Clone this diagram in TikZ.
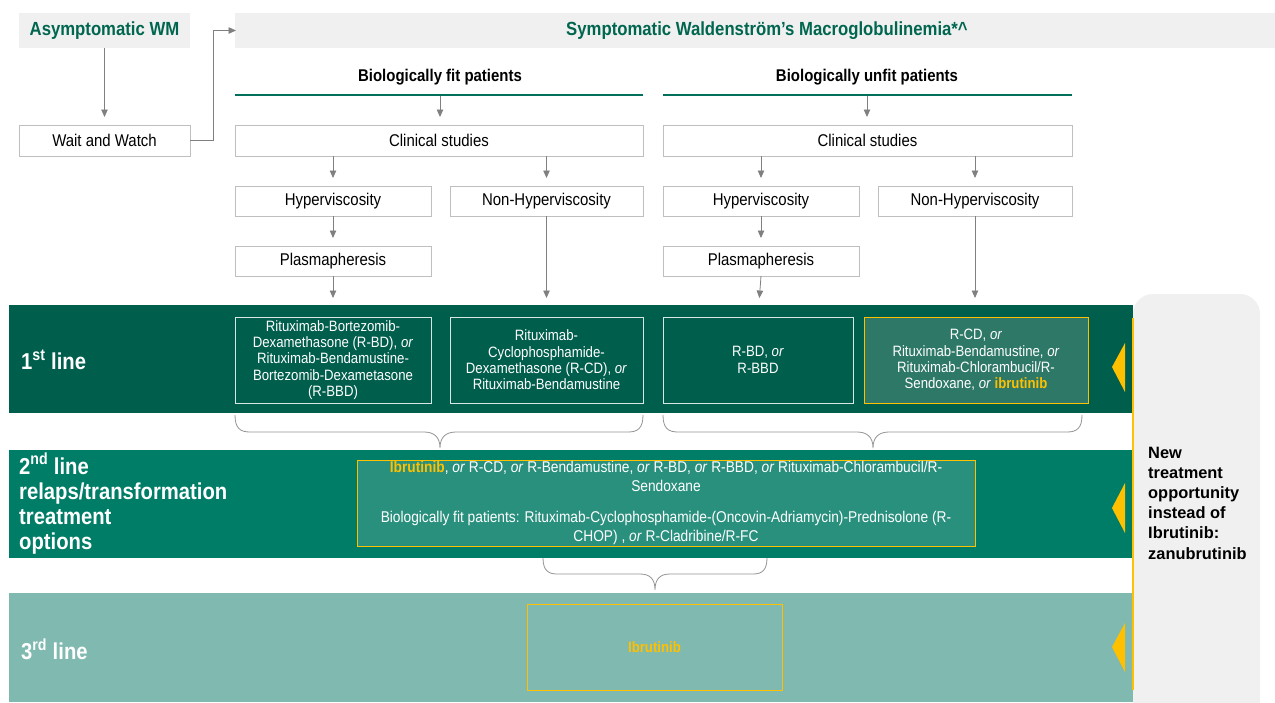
\documentclass[tikz,border=0pt]{standalone}
\usepackage{fontspec}
\setmainfont{Liberation Sans}[FakeStretch=0.88]
\newfontfamily\plainsans{Liberation Sans}
\usetikzlibrary{arrows.meta}
\definecolor{hdrgreen}{HTML}{00664F}
\definecolor{bandA}{HTML}{005E4C}
\definecolor{bandB}{HTML}{007D67}
\definecolor{bandC}{HTML}{80B9B0}
\definecolor{boxA}{HTML}{2E7868}
\definecolor{boxB}{HTML}{2A907E}
\definecolor{gold}{HTML}{FFC000}
\definecolor{paneGray}{HTML}{F0F0F0}
\definecolor{edgeGray}{HTML}{BFBFBF}
\definecolor{arrGray}{HTML}{808080}
\definecolor{ruleGreen}{HTML}{00705A}
\begin{document}
\begin{tikzpicture}[x=1pt,y=-1pt,
  hdrbox/.style={fill=paneGray, inner sep=0pt, outer sep=0pt, minimum height=35pt,
    font=\bfseries\fontsize{19}{22}\selectfont, text=hdrgreen},
  flowbox/.style={draw=edgeGray, line width=0.8pt, fill=white, inner sep=0pt, outer sep=0pt,
    minimum height=30pt, font=\fontsize{17}{20}\selectfont},
  subhdr/.style={font=\bfseries\fontsize{17}{20}\selectfont, inner sep=0pt},
  txbox/.style={draw=white!85!bandA, line width=0.8pt, inner sep=0pt, outer sep=0pt,
    minimum height=86pt, align=center, text=white, font=\fontsize{15}{16.4}\selectfont},
  goldbox/.style={txbox, draw=gold},
  lbl/.style={anchor=west, align=left, text=white, inner sep=0pt,
    font=\bfseries\fontsize{23}{25}\selectfont},
  arr/.style={draw=arrGray, line width=0.8pt, -{Triangle[width=6.5pt,length=7.5pt]}, shorten >=8pt},
  bracepath/.style={draw=arrGray!85, line width=0.8pt},
  rulepath/.style={draw=ruleGreen, line width=1.6pt}
]
\useasboundingbox (0,0) rectangle (1275,702);
\clip (0,0) rectangle (1275,702);

% ---- header row
\node[hdrbox, minimum width=171pt] (asym) at (104.5,30.5) {Asymptomatic WM};
\node[hdrbox, minimum width=1064pt] (sympt) at (767,30.5) {Symptomatic Waldenstr\"om's Macroglobulinemia*\textasciicircum};
\node[flowbox, minimum width=171pt, minimum height=31pt] (wait) at (104.5,140.5) {Wait and Watch};
\draw[arr] (asym.south) -- (wait.north);
\draw[arr, shorten >=0pt] (wait.east) -- ++(23,0) |- ([xshift=1pt]sympt.west);

% ---- patient groups
\node[subhdr] (fit) at (440,77) {Biologically fit patients};
\node[subhdr] (unfit) at (867,77) {Biologically unfit patients};
\coordinate (fitL) at (235,95);  \coordinate (fitR) at (643,95);
\coordinate (unfL) at (663,95);  \coordinate (unfR) at (1072,95);
\coordinate (fitM) at (440,96);  \coordinate (unfM) at (867,96);
\draw[rulepath] (fitL) -- (fitR);
\draw[rulepath] (unfL) -- (unfR);

\node[flowbox, minimum width=408pt, minimum height=31pt] (clinL) at (439,140.5) {Clinical studies};
\node[flowbox, minimum width=409pt, minimum height=31pt] (clinR) at (867.5,140.5) {Clinical studies};
\draw[arr] (fitM) -- (fitM |- clinL.north);
\draw[arr] (unfM) -- (unfM |- clinR.north);

\node[flowbox, minimum width=196pt] (hypL) at (333,201) {Hyperviscosity};
\node[flowbox, minimum width=193pt] (nonL) at (546.5,201) {Non-Hyperviscosity};
\node[flowbox, minimum width=196pt] (hypR) at (761,201) {Hyperviscosity};
\node[flowbox, minimum width=194pt] (nonR) at (975,201) {Non-Hyperviscosity};
\draw[arr] (hypL.north |- clinL.south) -- (hypL.north);
\draw[arr] (nonL.north |- clinL.south) -- (nonL.north);
\draw[arr] (hypR.north |- clinR.south) -- (hypR.north);
\draw[arr] (nonR.north |- clinR.south) -- (nonR.north);

\node[flowbox, minimum width=196pt] (plasL) at (333,261) {Plasmapheresis};
\node[flowbox, minimum width=196pt] (plasR) at (761,261) {Plasmapheresis};
\draw[arr] (hypL.south) -- (plasL.north);
\draw[arr] (hypR.south) -- (plasR.north);

% ---- bands
\fill[bandA] (9,305) rectangle (1133,413);
\fill[bandB] (9,450) rectangle (1133,558);
\fill[bandC] (9,593) rectangle (1133,702);

% ---- 1st line
\node[lbl] (l1) at (21,360) {1\textsuperscript{st} line};
\node[txbox, minimum width=196pt] (b1) at (333,360)
  {Rituximab-Bortezomib-\\Dexamethasone (R-BD), \textit{or}\\Rituximab-Bendamustine-\\Bortezomib-Dexametasone\\(R-BBD)};
\node[txbox, minimum width=193pt] (b2) at (546.5,360)
  {Rituximab-\\Cyclophosphamide-\\Dexamethasone (R-CD), \textit{or}\\Rituximab-Bendamustine};
\node[txbox, minimum width=190pt] (b3) at (758,360)
  {R-BD, \textit{or}\\R-BBD};
\node[goldbox, fill=boxA, minimum width=224pt] (b4) at (976,360)
  {R-CD, \textit{or}\\Rituximab-Bendamustine, \textit{or}\\Rituximab-Chlorambucil/R-\\Sendoxane, \textit{or} \textcolor{gold}{\bfseries ibrutinib}};
\draw[arr, shorten >=19pt] (plasL.south) -- (b1.north);
\draw[arr, shorten >=19pt] (nonL.south) -- (b2.north);
\draw[arr, shorten >=19pt] (plasR.south) -- (b3.north);
\draw[arr, shorten >=19pt] (nonR.south) -- (b4.north -| nonR.south);

% ---- braces
\coordinate (brA) at (235,415); \coordinate (brAtip) at (440,448); \coordinate (brAend) at (643,415);
\draw[bracepath] (brA) .. controls (235,428) and (240,432) .. (250,432) -- (424,432)
  .. controls (434,432) and (440,437) .. (brAtip)
  .. controls (440,437) and (446,432) .. (456,432) -- (628,432)
  .. controls (638,432) and (643,428) .. (brAend);
\coordinate (brB) at (663,415); \coordinate (brBtip) at (873,448); \coordinate (brBend) at (1082,415);
\draw[bracepath] (brB) .. controls (663,428) and (668,432) .. (678,432) -- (857,432)
  .. controls (867,432) and (873,437) .. (brBtip)
  .. controls (873,437) and (879,432) .. (889,432) -- (1067,432)
  .. controls (1077,432) and (1082,428) .. (brBend);

% ---- 2nd line
\node[lbl, font=\bfseries\fontsize{23}{25.3}\selectfont] (l2) at (19,504)
  {2\textsuperscript{nd} line\\relaps/transformation\\treatment\\options};
\node[goldbox, fill=boxB, minimum width=618pt, font=\fontsize{15.6}{19}\selectfont] (c2) at (666,503)
  {\textcolor{gold}{\bfseries Ibrutinib}, \textit{or} R-CD, \textit{or} R-Bendamustine, \textit{or} R-BD, \textit{or} R-BBD, \textit{or} Rituximab-Chlorambucil/R-\\Sendoxane\\[12pt]Biologically fit patients: Rituximab-Cyclophosphamide-(Oncovin-Adriamycin)-Prednisolone (R-\\CHOP) , \textit{or} R-Cladribine/R-FC};

\coordinate (brC) at (543,558); \coordinate (brCtip) at (655,590); \coordinate (brCend) at (767,558);
\draw[bracepath] (brC) .. controls (543,570) and (548,574) .. (557,574) -- (640,574)
  .. controls (650,574) and (655,579) .. (brCtip)
  .. controls (655,579) and (660,574) .. (670,574) -- (753,574)
  .. controls (762,574) and (767,570) .. (brCend);

% ---- 3rd line
\node[lbl] (l3) at (21,649) {3\textsuperscript{rd} line};
\node[goldbox, minimum width=255pt, font=\bfseries\fontsize{15}{16}\selectfont, text=gold] (c3) at (654.5,647) {Ibrutinib};

% ---- right panel
\node[fill=paneGray, rounded corners=20pt, minimum width=127pt, minimum height=480pt,
  inner sep=0pt, outer sep=0pt, anchor=north west] (panel) at (1133,294) {};
\draw[gold, line width=1.6pt] (1133,318) -- (1133,690);
\node[anchor=west, align=left, inner sep=0pt,
  font=\plainsans\bfseries\fontsize{16.4}{20.2}\selectfont] (newtx) at (1148,503)
  {New\\treatment\\opportunity\\instead of\\Ibrutinib:\\zanubrutinib};
\fill[gold] (1112,367) -- (1125,343) -- (1125,392) -- cycle;
\fill[gold] (1112,508) -- (1125,483) -- (1125,533) -- cycle;
\fill[gold] (1112,647) -- (1125,623) -- (1125,672) -- cycle;
\end{tikzpicture}
\end{document}
